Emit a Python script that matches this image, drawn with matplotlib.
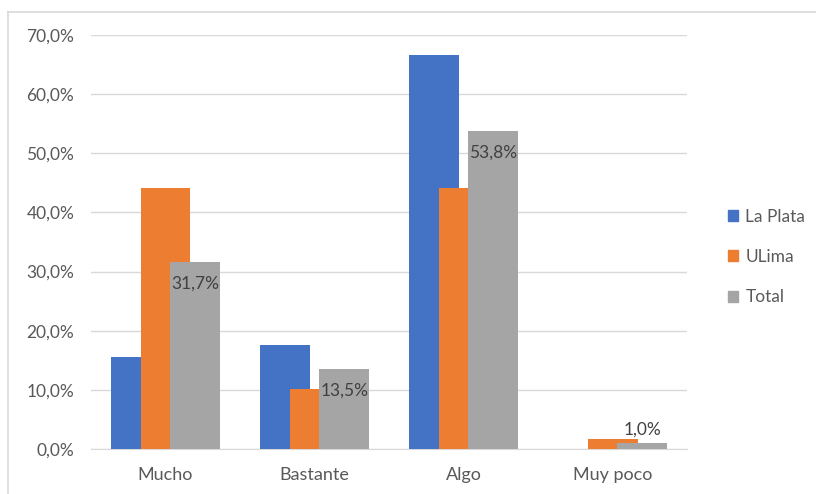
import matplotlib.pyplot as plt
from matplotlib.lines import Line2D
from matplotlib.patches import Patch
import numpy as np

plt.rcParams['font.family'] = ['Lato', 'DejaVu Sans']

categories = ["Mucho", "Bastante", "Algo", "Muy poco"]
la_plata = [15.6, 17.6, 66.7, 0.0]
ulima = [44.1, 10.2, 44.1, 1.7]
total = [31.7, 13.5, 53.8, 1.0]
yticks = [0, 10, 20, 30, 40, 50, 60, 70]

series = [("La Plata", la_plata, "#4472C4"),
          ("ULima", ulima, "#ED7D31"),
          ("Total", total, "#A5A5A5")]

fig = plt.figure(figsize=(8.16, 4.94), dpi=100)
ax = fig.add_axes([0.1115, 0.0911, 0.7305, 0.8380])

x = np.arange(len(categories))
width = 0.335
step = 0.2
for i, (name, vals, color) in enumerate(series):
    ax.bar(x + (i - 1) * step, vals, width, color=color, zorder=2 + i, label=name)

# data labels only on Total
for xi, v in zip(x, total):
    xp = xi + step
    txt = f"{v:.1f}%".replace(".", ",")
    if v > 5:
        ax.text(xp, v - 2.3, txt, ha="center", va="top",
                fontsize=12.5, color="#404040", zorder=10)
    else:
        ax.text(xp, v + 1.0, txt, ha="center", va="bottom",
                fontsize=12.5, color="#404040", zorder=10)

ax.set_xlim(-0.5, len(categories) - 0.5)
ax.set_ylim(0, 70)
ax.set_yticks(yticks)
ax.set_yticklabels([f"{t:.1f}%".replace(".", ",") for t in yticks])
ax.set_xticks(x)
ax.set_xticklabels(categories)
ax.tick_params(axis="y", length=0, pad=12, labelsize=12.5, labelcolor="#595959")
ax.tick_params(axis="x", length=0, pad=13, labelsize=13, labelcolor="#595959")
ax.grid(axis="y", color="#D9D9D9", linewidth=1, zorder=0)
for s in ["top", "right", "left"]:
    ax.spines[s].set_visible(False)
ax.spines["bottom"].set_color("#D9D9D9")
ax.spines["bottom"].set_zorder(1)

handles = [Patch(color=c, label=n) for n, _, c in series]
fig.legend(handles=handles, loc="center left", bbox_to_anchor=(0.873, 0.48),
           frameon=False, fontsize=12.5, labelcolor="#595959",
           handlelength=0.6, handleheight=0.6, handletextpad=0.4, labelspacing=1.4)

# chart area border (top and left visible)
fig.add_artist(Line2D([8 / 816, 1], [1 - 12 / 494, 1 - 12 / 494], color="#D9D9D9", lw=1.2))
fig.add_artist(Line2D([8 / 816, 8 / 816], [0, 1 - 12 / 494], color="#D9D9D9", lw=1.2))

fig.savefig("out.png", dpi=100)
